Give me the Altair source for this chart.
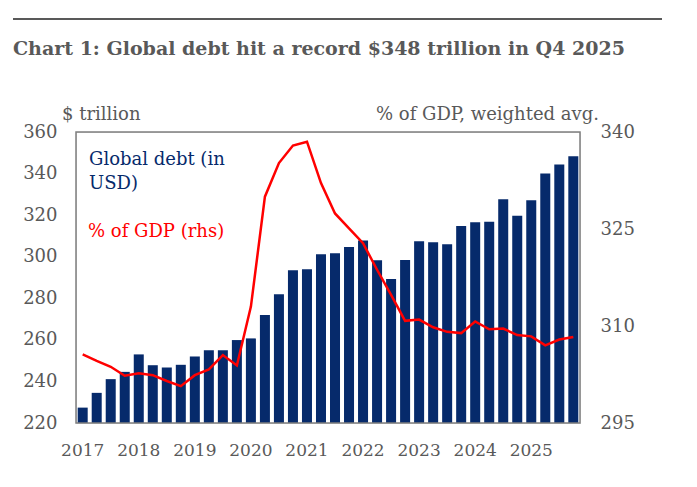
import altair as alt
import pandas as pd

years = [2017, 2018, 2019, 2020, 2021, 2022, 2023, 2024, 2025]
quarters = [f"{y}Q{q}" for y in years for q in (1, 2, 3, 4)]

debt_usd_tn = [227.4, 234.5, 241.1, 244.6, 253.0, 247.8, 246.7, 248.0,
               252.0, 255.0, 255.0, 259.9, 260.7, 272.0, 282.0, 293.5,
               294.0, 301.2, 301.7, 304.7, 307.8, 298.3, 289.3, 298.4,
               307.5, 307.0, 306.0, 314.8, 316.6, 316.8, 327.7, 319.7,
               327.2, 340.0, 344.4, 348.3]
debt_pct_gdp = [305.6, 304.6, 303.7, 302.3, 302.7, 302.4, 301.5, 300.7,
                302.4, 303.3, 305.5, 303.9, 313.0, 330.0, 335.2, 337.9,
                338.5, 332.1, 327.4, 325.1, 322.8, 318.7, 314.8, 310.8,
                311.0, 309.8, 309.1, 308.9, 310.7, 309.5, 309.6, 308.6,
                308.4, 307.0, 307.9, 308.3]

left_ticks = [220, 240, 260, 280, 300, 320, 340, 360]
right_ticks = [295, 310, 325, 340]

df = pd.DataFrame({"q": quarters, "debt": debt_usd_tn, "pct": debt_pct_gdp})

FONT = "DejaVu Serif"
GREY = "#595959"
NAVY = "#062a6b"
RED = "#ff0000"

xenc = alt.X("q:O", sort=quarters, title=None,
             scale=alt.Scale(paddingInner=0.286, paddingOuter=0.12),
             axis=alt.Axis(labelExpr="slice(datum.label, 4) == 'Q1' ? slice(datum.label, 0, 4) : ''",
                           labelAngle=0, ticks=False, domain=False, labelPadding=19,
                           labelFont=FONT, labelFontSize=17, labelColor=GREY,
                           labelOverlap=False, labelFlush=False))

bars = alt.Chart(df).mark_bar(color=NAVY).encode(
    x=xenc,
    y=alt.Y("debt:Q", title=None,
            scale=alt.Scale(domain=[220, 360], zero=False, nice=False),
            axis=alt.Axis(orient="left", values=left_ticks, ticks=False, domain=False,
                          grid=False, labelPadding=19, labelFont=FONT, labelFontSize=18,
                          labelColor=GREY)),
    y2=alt.datum(220),
)

line = alt.Chart(df).mark_line(color=RED, strokeWidth=2.5).encode(
    x=alt.X("q:O", sort=quarters),
    y=alt.Y("pct:Q", title=None,
            scale=alt.Scale(domain=[295, 340], zero=False, nice=False),
            axis=alt.Axis(orient="right", values=right_ticks, ticks=False, domain=False,
                          grid=False, labelPadding=20, labelFont=FONT, labelFontSize=18,
                          labelColor=GREY)),
)

one = alt.Data(values=[{}])


def txt(s, x, y, color=GREY, size=18, weight="normal", align="left"):
    return alt.Chart(one).mark_text(
        text=s, font=FONT, fontSize=size, fontWeight=weight, color=color,
        align=align, baseline="alphabetic"
    ).encode(x=alt.value(x), y=alt.value(y))


top_rule = alt.Chart(one).mark_rule(color=GREY, strokeWidth=2.2).encode(
    x=alt.value(-63), x2=alt.value(586), y=alt.value(-113))

frame = alt.Chart(one).mark_rect(fill=None, stroke="#7f7f7f", strokeWidth=1.5).encode(
    x=alt.value(0), x2=alt.value(504), y=alt.value(0), y2=alt.value(291))

texts = [
    txt("Chart 1: Global debt hit a record $348 trillion in Q4 2025", -63, -77,
        size=19, weight="bold"),
    txt("$ trillion", -14, -12),
    txt("% of GDP, weighted avg.", 523, -12, align="right"),
    txt("Global debt (in", 13, 33, color=NAVY),
    txt("USD)", 13, 57, color=NAVY),
    txt("% of GDP (rhs)", 12, 105, color=RED),
]

chart = alt.layer(bars, line, frame, top_rule, *texts).resolve_scale(y="independent").properties(
    width=504, height=291,
    autosize=alt.AutoSizeParams(type="none"),
    padding={"left": 68, "top": 124, "right": 100, "bottom": 50},
).configure_view(stroke=None).configure(background="white")

chart.save("out.html", embed_options={"renderer": "svg", "actions": False})
